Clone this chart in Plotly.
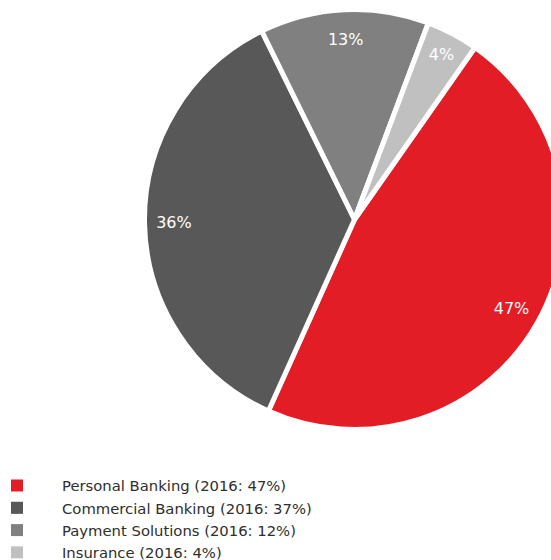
import plotly.graph_objects as go

segments = ["Personal Banking", "Commercial Banking", "Payment Solutions", "Insurance"]
shares_2017 = [47, 36, 13, 4]
shares_2016 = [47, 37, 12, 4]
colors = ["#E31D25", "#585858", "#808080", "#C0C0C0"]

legend_names = [f"{s} (2016: {v}%)" for s, v in zip(segments, shares_2016)]
slice_text = [f"{v}%" for v in shares_2017]

W, H = 580, 560
dom = dict(x=[144.5 / W, 564.5 / W], y=[1 - 429.5 / H, 1 - 9.5 / H])
common = dict(labels=legend_names, values=shares_2017, sort=False,
              direction="clockwise", rotation=35, domain=dom)

# base pie (supplies legend symbols without the white separators)
base = go.Pie(**common, marker=dict(colors=colors, line=dict(width=0)),
              textinfo="none", hoverinfo="skip", showlegend=True)
# visible pie with white gaps between slices
main = go.Pie(**common, marker=dict(colors=colors, line=dict(color="white", width=5)),
              textinfo="none", hoverinfo="label+percent", showlegend=False)
# transparent ring carrying the labels near the rim
ring = go.Pie(**common, hole=0.72,
              marker=dict(colors=["rgba(0,0,0,0)"] * 4, line=dict(width=0)),
              text=slice_text, textinfo="text", textposition="inside",
              insidetextorientation="horizontal",
              insidetextfont=dict(color="white", size=16, family="DejaVu Sans"),
              hoverinfo="skip", showlegend=False)

fig = go.Figure([base, main, ring])

fig.update_layout(
    width=W, height=H,
    margin=dict(l=0, r=0, t=0, b=0, autoexpand=False),
    paper_bgcolor="white",
    plot_bgcolor="white",
    showlegend=True,
    legend=dict(
        x=-28 / W, y=-8.5 / H, xanchor="left", yanchor="bottom",
        font=dict(family="DejaVu Sans", size=14.8, color="#2e2e2e"),
        itemwidth=80,
        bgcolor="rgba(0,0,0,0)",
    ),
)

fig.write_html("out.html", post_script="document.body.style.overflow='hidden';document.body.style.margin='0';")
